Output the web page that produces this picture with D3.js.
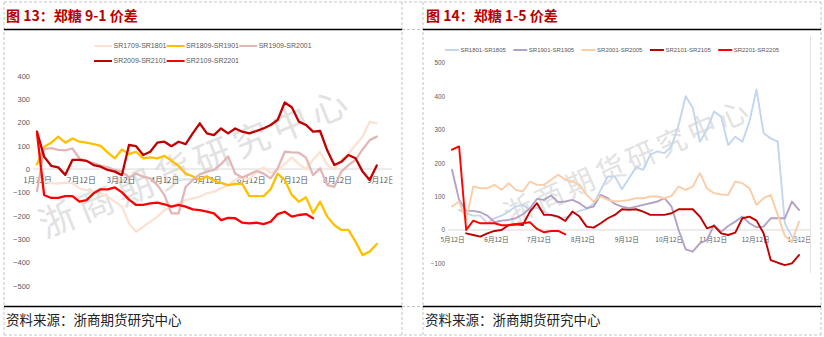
<!DOCTYPE html>
<html><head><meta charset="utf-8">
<script src="https://cdn.jsdelivr.net/npm/d3@7"></script>
<style>
html,body{margin:0;padding:0;background:#fff;}
svg{display:block;}
</style></head>
<body>
<svg id="c" width="824" height="337"></svg>
<script>
// ---------- data: Zhengzhou sugar spreads, sampled every 5 days ----------
const leftStart = "2021-01-12";   // 9-1 spread, Jan 12 -> Sep 12
const rightStart = "2021-05-12";  // 1-5 spread, May 12 -> Jan 12
const stepDays = 5;

const leftNames = ["SR1709-SR1801", "SR1809-SR1901", "SR1909-SR2001", "SR2009-SR2101", "SR2109-SR2201"];
const sr1709_1801 = [-40,-55,-60,-62,-58,-60,-83,-90,-97,-104,-119,-140,-161,-233,-269,-247,-226,-204,-176,-161,-147,-133,-126,-119,-104,-97,-83,-69,-47,-36,-44,-11,7,-16,-4,21,50,21,-1,40,74,17,-1,39,67,103,139,203,196];
const sr1809_1901 = [20,96,113,139,113,131,117,113,107,99,70,46,84,64,74,46,50,46,56,36,13,-20,-31,-47,-31,-50,-59,-69,-64,-64,-116,-116,-116,-87,-20,-47,-111,-140,-121,-190,-140,-204,-240,-261,-261,-311,-369,-354,-321];
const sr1909_2001 = [-95,85,90,82,80,88,45,35,25,15,7,-4,-11,-36,-19,-33,-40,-69,-111,-190,-190,-76,-47,-23,-11,-4,21,54,-19,-36,-23,-9,-19,-40,3,74,71,70,49,-26,3,-69,-76,-11,17,39,84,124,139];
const sr2009_2101 = [160,53,14,7,-25,39,39,35,17,10,-4,-11,-26,103,98,60,74,113,117,98,117,107,153,196,153,145,174,153,174,160,153,163,174,189,210,285,265,203,189,160,163,80,17,31,60,46,-11,-47,15];
const sr2109_2201 = [155,-111,-124,-124,-116,-116,-140,-133,-104,-87,-87,-79,-100,-131,-154,-154,-147,-144,-151,-161,-154,-161,-173,-176,-183,-190,-219,-209,-211,-230,-233,-230,-236,-226,-193,-183,-204,-197,-193,-211,null,null,null,null,null,null,null,null,null];

const rightNames = ["SR1801-SR1805", "SR1901-SR1905", "SR2001-SR2005", "SR2101-SR2105", "SR2201-SR2205"];
const sr1801_1805 = [null,60,50,43,43,20,35,43,55,70,75,60,67,55,43,37,37,47,57,63,78,120,160,160,122,155,188,180,225,235,230,250,314,400,365,264,300,354,339,254,279,264,324,420,289,274,264,20,-20,-30];
const sr1901_1905 = [180,90,57,57,53,43,23,28,30,35,47,65,93,90,103,83,85,90,80,65,70,105,95,78,70,65,70,75,80,85,95,70,0,-58,-65,-40,-30,15,-5,12,25,40,20,8,10,35,35,35,85,60];
const sr2001_2005 = [70,85,30,130,125,125,135,120,140,120,115,145,135,135,150,165,150,145,135,105,85,100,90,85,87,90,95,95,100,100,95,102,130,120,130,170,125,110,106,105,145,140,125,75,95,105,45,-18,-35,25];
const sr2101_2105 = [null,null,-10,-15,-20,-10,-3,0,15,17,15,55,80,45,45,40,27,55,40,10,7,20,35,45,62,60,62,55,45,45,45,50,62,62,62,40,5,12,-10,-15,-8,35,40,28,-10,-90,-98,-105,-100,-75];
const sr2201_2205 = [240,250,0,28,20,20,20,14,14,17,20,23,3,-7,-3,-3,-13,null,null,null,null,null,null,null,null,null,null,null,null,null,null,null,null,null,null,null,null,null,null,null,null,null,null,null,null,null,null,null,null,null];

const leftTickDates = ["2021-01-12","2021-02-12","2021-03-12","2021-04-12","2021-05-12","2021-06-12","2021-07-12","2021-08-12","2021-09-12"];
const rightTickDates = ["2021-05-12","2021-06-12","2021-07-12","2021-08-12","2021-09-12","2021-10-12","2021-11-12","2021-12-12","2022-01-12"];
const leftYTicks = [400,300,200,100,0,-100,-200,-300,-400,-500];
const rightYTicks = [500,400,300,200,100,0,-100];

const leftTitle = "图 13：郑糖 9-1 价差";
const rightTitle = "图 14：郑糖 1-5 价差";
const sourceText = "资料来源：浙商期货研究中心";
const watermarkText = "浙商期货研究中心";

// ---------- styles ----------
const leftColors = ["#FBE2D3", "#FFC000", "#E3B6B6", "#C00000", "#FF0000"];
const rightColors = ["#C2D6EE", "#B3A2C7", "#FBCDA6", "#C00000", "#FF0000"];
const labelFont = "'Liberation Sans', Arial, sans-serif";
const cjkFont = "'Noto Sans CJK SC', sans-serif";

const parse = d3.timeParse("%Y-%m-%d");
const svg = d3.select("#c");

// ---------- frame: dashed cells, title rules ----------
const frame = svg.append("g").attr("fill", "none");
const dash = {stroke: "#c4c4c4", "stroke-width": 1, "stroke-dasharray": "3,2"};
function dashed(x1, y1, x2, y2) {
  const l = frame.append("line").attr("x1", x1).attr("y1", y1).attr("x2", x2).attr("y2", y2);
  Object.entries(dash).forEach(([k, v]) => l.attr(k, v));
}
dashed(4, 2, 821, 2);
dashed(4, 335, 821, 335);
dashed(4, 2, 4, 335);
dashed(402, 2, 402, 335);
dashed(423, 2, 423, 335);
dashed(821, 2, 821, 335);
dashed(402, 29.5, 423, 29.5);
dashed(402, 306.5, 423, 306.5);

[[4, 402], [423, 821]].forEach(([a, b]) => {
  frame.append("line").attr("x1", a).attr("x2", b).attr("y1", 29.5).attr("y2", 29.5)
    .attr("stroke", "#000").attr("stroke-width", 1.6);
  frame.append("line").attr("x1", a).attr("x2", b).attr("y1", 306.5).attr("y2", 306.5)
    .attr("stroke", "#000").attr("stroke-width", 1.6);
});

// titles and source lines
[[6, leftTitle], [426, rightTitle]].forEach(([x, t]) => {
  svg.append("text").attr("x", x).attr("y", 20.5).text(t)
    .attr("font-family", cjkFont).attr("font-weight", "bold").attr("font-size", 14)
    .attr("fill", "#B80000");
});
[[6, sourceText], [425, sourceText]].forEach(([x, t]) => {
  svg.append("text").attr("x", x).attr("y", 325).text(t)
    .attr("font-family", cjkFont).attr("font-size", 13.5).attr("fill", "#222");
});

// ---------- chart builder ----------
function buildChart(cfg) {
  const g = svg.append("g");
  const dates = cfg.series[0].map((_, i) => d3.timeDay.offset(parse(cfg.start), i * stepDays));
  const ticks = cfg.tickDates.map(parse);

  const x = d3.scaleTime().domain([ticks[0], ticks[ticks.length - 1]]).range(cfg.xRange);
  const y = d3.scaleLinear().domain(cfg.yDomain).range(cfg.yRange);

  // watermark
  g.append("text")
    .attr("transform", `translate(${cfg.wm.x},${cfg.wm.y}) rotate(${cfg.wm.angle})`)
    .attr("text-anchor", "middle").attr("dy", "0.35em")
    .attr("font-family", cjkFont).attr("font-size", cfg.wm.size)
    .attr("letter-spacing", cfg.wm.spacing)
    .attr("fill", "#e2e2e2").text(watermarkText);

  // zero line
  g.append("line").attr("x1", cfg.plotX[0]).attr("x2", cfg.plotX[1])
    .attr("y1", y(0)).attr("y2", y(0)).attr("stroke", "#d9d9d9").attr("stroke-width", 1);

  // y axis labels
  const yAxis = d3.axisLeft(y).tickValues(cfg.yTicks).tickSize(0).tickPadding(3)
    .tickFormat(d3.format("d"));
  const ya = g.append("g").attr("transform", `translate(${cfg.plotX[0]},0)`).call(yAxis);
  ya.select(".domain").remove();
  ya.selectAll("text").attr("font-family", labelFont).attr("font-size", cfg.yFont).attr("fill", "#595959");

  // x axis labels along the zero line, clipped at the chart edge
  const clipId = "clip" + cfg.id;
  svg.append("clipPath").attr("id", clipId).append("rect")
    .attr("x", cfg.plotX[0] - 20).attr("y", 0).attr("width", cfg.labelClip - cfg.plotX[0] + 20).attr("height", 337);
  const xAxis = d3.axisBottom(x).tickValues(ticks).tickSize(0).tickPadding(cfg.xPad)
    .tickFormat(d => `${d.getMonth() + 1}月${d.getDate()}日`);
  const xa = g.append("g").attr("clip-path", `url(#${clipId})`)
    .attr("transform", `translate(0,${y(0)})`).call(xAxis);
  xa.select(".domain").remove();
  xa.selectAll("text").attr("font-family", cjkFont).attr("font-size", cfg.xFont).attr("fill", "#595959");

  // series lines
  const line = d3.line().defined(d => d[1] != null).x(d => x(d[0])).y(d => y(d[1]));
  cfg.series.forEach((vals, k) => {
    g.append("path").datum(vals.map((v, i) => [dates[i], v]))
      .attr("d", line).attr("fill", "none")
      .attr("stroke", cfg.colors[k]).attr("stroke-width", cfg.lineWidth)
      .attr("stroke-linejoin", "round").attr("stroke-linecap", "round");
  });

  // legend
  cfg.names.forEach((name, k) => {
    const p = cfg.legendPos(k);
    g.append("line").attr("x1", p[0]).attr("x2", p[0] + cfg.legendLine)
      .attr("y1", p[1]).attr("y2", p[1]).attr("stroke", cfg.colors[k]).attr("stroke-width", 2);
    g.append("text").attr("x", p[0] + cfg.legendLine + 1.5).attr("y", p[1]).attr("dy", "0.35em")
      .attr("font-family", labelFont).attr("font-size", cfg.legendFont).attr("fill", "#595959")
      .text(name);
  });
  return g;
}

buildChart({
  id: "L", start: leftStart, tickDates: leftTickDates,
  series: [sr1709_1801, sr1809_1901, sr1909_2001, sr2009_2101, sr2109_2201],
  names: leftNames, colors: leftColors,
  xRange: [37, 381], yDomain: [-500, 400], yRange: [285.7, 75.7],
  plotX: [33, 392], labelClip: 392.5, yTicks: leftYTicks,
  yFont: 7.5, xFont: 7.8, xPad: 8.5, lineWidth: 2.3,
  legendLine: 18, legendFont: 7,
  legendPos: k => [94 + (k % 3) * 72.6, 46 + Math.floor(k / 3) * 15],
  wm: {x: 196, y: 163, angle: -22.3, size: 36, spacing: 6}
});

const right = buildChart({
  id: "R", start: rightStart, tickDates: rightTickDates,
  series: [sr1801_1805, sr1901_1905, sr2001_2005, sr2101_2105, sr2201_2205],
  names: rightNames, colors: rightColors,
  xRange: [452, 799], yDomain: [-100, 500], yRange: [263.4, 62.8],
  plotX: [448, 810], labelClip: 810, yTicks: rightYTicks,
  yFont: 6.3, xFont: 6.6, xPad: 7.8, lineWidth: 1.9,
  legendLine: 14, legendFont: 6,
  legendPos: k => [445 + k * 68.3, 50],
  wm: {x: 628, y: 162, angle: -23.9, size: 29, spacing: 4.5}
});

// right chart-area edge
right.append("line").attr("x1", 810.5).attr("x2", 810.5).attr("y1", 36).attr("y2", 273)
  .attr("stroke", "#e3e3e3").attr("stroke-width", 1);
</script>
</body></html>
